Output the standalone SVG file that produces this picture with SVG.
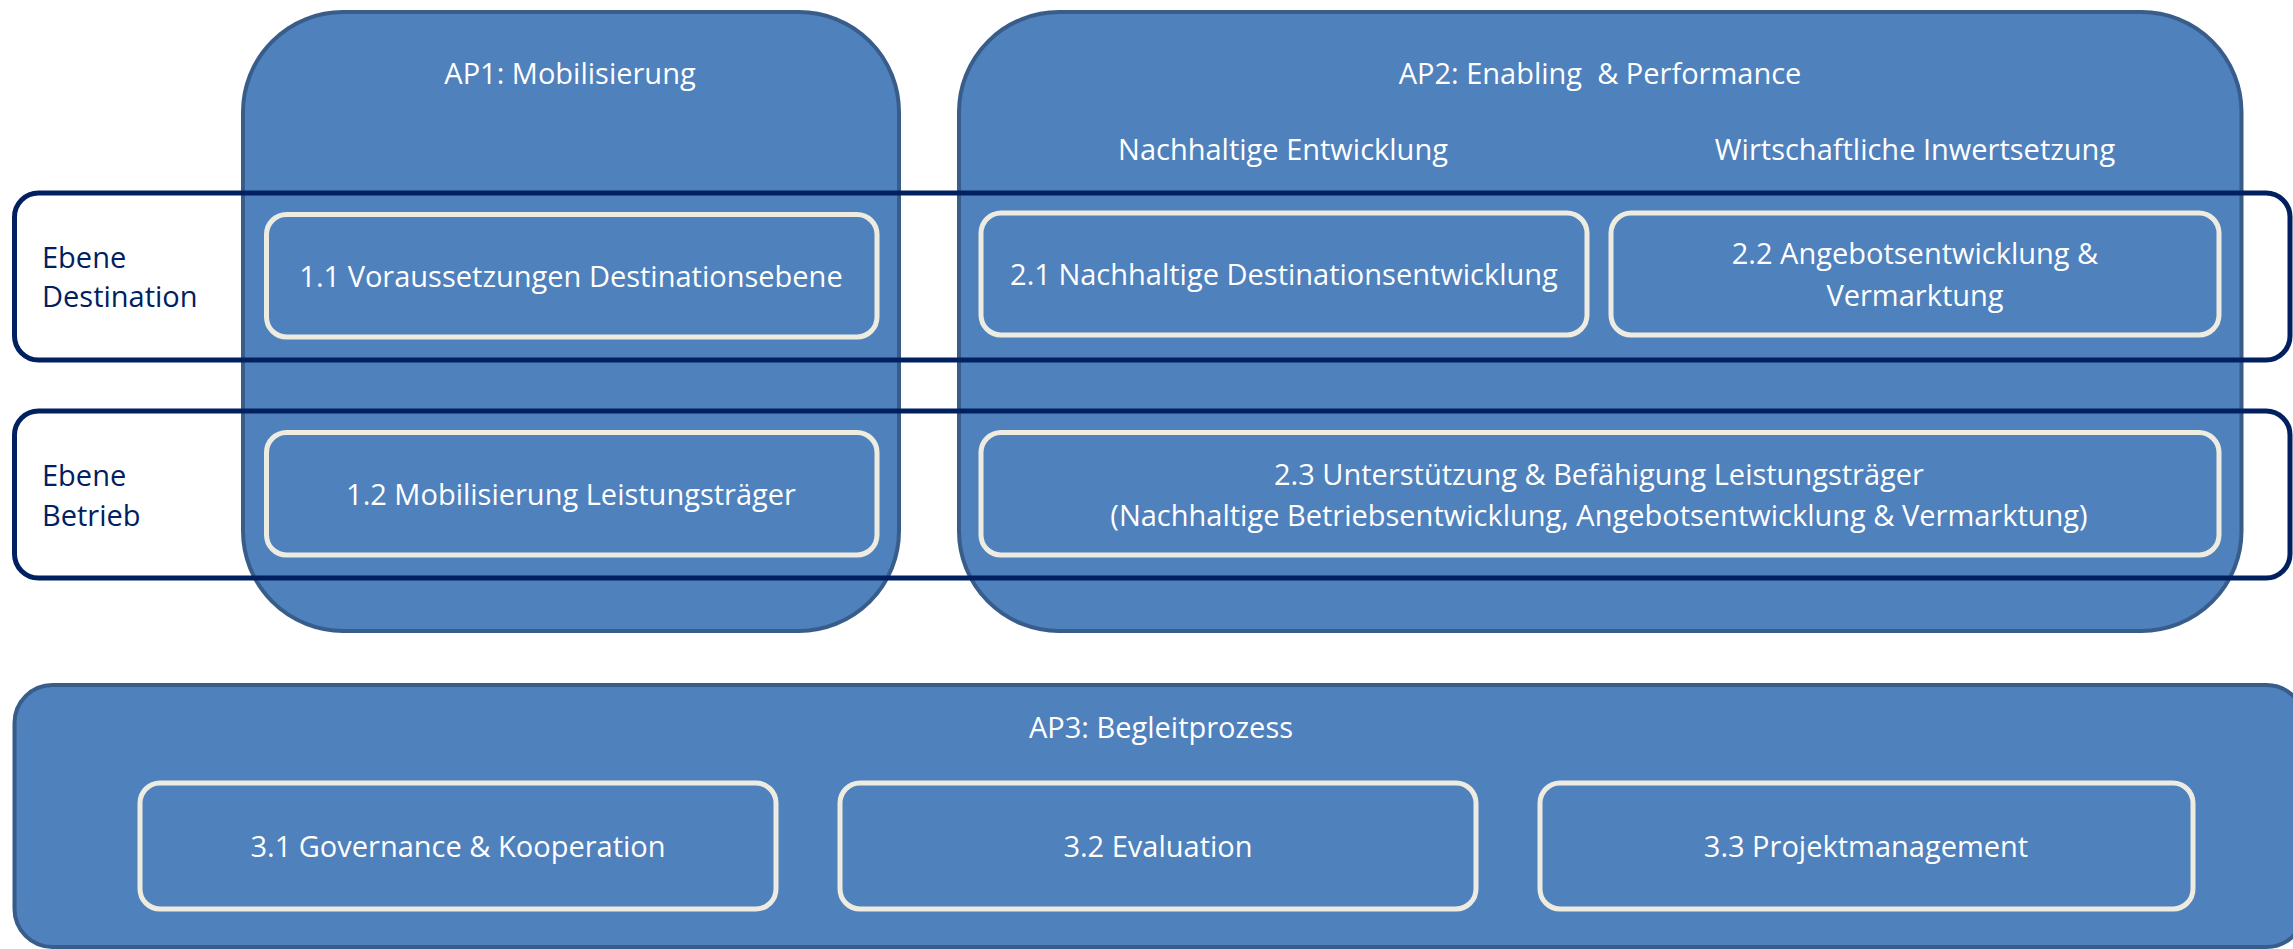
<svg xmlns="http://www.w3.org/2000/svg" width="2293" height="949" viewBox="0 0 2293 949">
<style>
.ap{fill:#4F81BD;stroke:#385D8A;stroke-width:4}
.band{fill:none;stroke:#002060;stroke-width:5}
.box{fill:none;stroke:#EEECE1;stroke-width:5}
.t{font-family:"Open Sans","Noto Sans",sans-serif;font-size:29px;fill:#FFFFFF;text-anchor:middle;white-space:pre}
.l{font-family:"Open Sans","Noto Sans",sans-serif;font-size:29px;fill:#002060}
</style>
<rect width="2293" height="949" fill="#FFFFFF"/>
<g id="ap1">
<rect class="ap" x="243" y="12" width="656" height="619" rx="100" ry="100"/>
<text class="t" x="570" y="84">AP1: Mobilisierung</text>
</g>
<g id="ap2">
<rect class="ap" x="959" y="12" width="1282.5" height="619" rx="100" ry="100"/>
<text class="t" x="1600" y="84">AP2: Enabling  &amp; Performance</text>
<text class="t" x="1283" y="160">Nachhaltige Entwicklung</text>
<text class="t" x="1915" y="160">Wirtschaftliche Inwertsetzung</text>
</g>
<g id="ebene-destination">
<rect class="band" x="14.5" y="193" width="2275.5" height="167" rx="24" ry="24"/>
<text class="l" x="42" y="268">Ebene</text>
<text class="l" x="42" y="307">Destination</text>
</g>
<g id="ebene-betrieb">
<rect class="band" x="14.5" y="411" width="2275.5" height="167" rx="24" ry="24"/>
<text class="l" x="42" y="486">Ebene</text>
<text class="l" x="42" y="526">Betrieb</text>
</g>
<g id="n11">
<rect class="box" x="266.5" y="214.5" width="610.5" height="122.5" rx="20" ry="20"/>
<text class="t" x="571" y="287">1.1 Voraussetzungen Destinationsebene</text>
</g>
<g id="n12">
<rect class="box" x="266.5" y="432.5" width="610.5" height="122.5" rx="20" ry="20"/>
<text class="t" x="571" y="505">1.2 Mobilisierung Leistungsträger</text>
</g>
<g id="n21">
<rect class="box" x="981" y="213" width="606" height="122" rx="20" ry="20"/>
<text class="t" x="1284" y="285">2.1 Nachhaltige Destinationsentwicklung</text>
</g>
<g id="n22">
<rect class="box" x="1611" y="213" width="608" height="122" rx="20" ry="20"/>
<text class="t" x="1915" y="264">2.2 Angebotsentwicklung &amp;</text>
<text class="t" x="1915" y="306">Vermarktung</text>
</g>
<g id="n23">
<rect class="box" x="981" y="432.5" width="1238" height="122.5" rx="20" ry="20"/>
<text class="t" x="1599" y="485">2.3 Unterstützung &amp; Befähigung Leistungsträger</text>
<text class="t" x="1599" y="526">(Nachhaltige Betriebsentwicklung, Angebotsentwicklung &amp; Vermarktung)</text>
</g>
<g id="ap3">
<rect class="ap" x="14.5" y="685" width="2290" height="262" rx="38" ry="38"/>
<text class="t" x="1161" y="738">AP3: Begleitprozess</text>
</g>
<g id="n31">
<rect class="box" x="140" y="783" width="636" height="126" rx="20" ry="20"/>
<text class="t" x="458" y="857">3.1 Governance &amp; Kooperation</text>
</g>
<g id="n32">
<rect class="box" x="840" y="783" width="636" height="126" rx="20" ry="20"/>
<text class="t" x="1158" y="857">3.2 Evaluation</text>
</g>
<g id="n33">
<rect class="box" x="1540" y="783" width="653" height="126" rx="20" ry="20"/>
<text class="t" x="1866" y="857">3.3 Projektmanagement</text>
</g>
<g id="connectors"/>
</svg>
